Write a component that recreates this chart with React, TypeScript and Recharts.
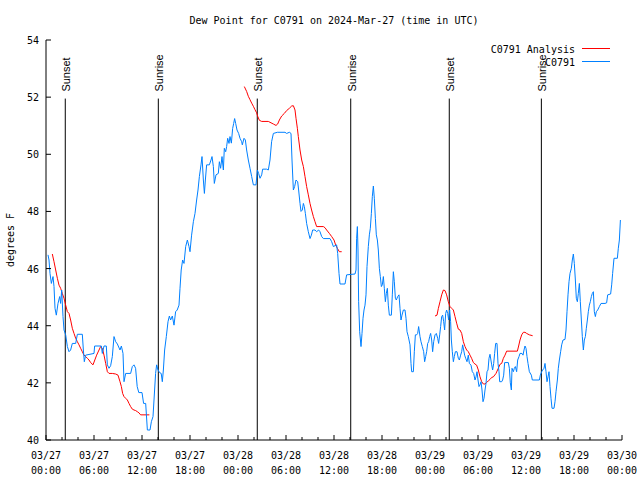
import React from 'react'
import { LineChart, Line, XAxis, YAxis, ReferenceLine } from 'recharts'

// hours since 03/27 00:00 UTC
const BLUE_HOURS = [
  0.25, 0.375, 0.5, 0.67, 0.875, 1.0, 1.125, 1.29, 1.5, 1.71, 1.83, 1.96, 2.125, 2.25, 2.46, 2.67, 2.875, 3.08, 3.29, 3.71,
  3.92, 4.54, 4.67, 4.79, 4.96, 6.0, 6.08, 6.92, 7.04, 7.25, 7.54, 7.67, 7.875, 8.08, 8.29, 8.5, 8.71, 8.92, 9.25, 9.42,
  9.625, 9.75, 9.96, 10.58, 10.79, 11.0, 11.2, 11.4, 11.6, 12.0, 12.2, 12.46, 12.67, 13.0, 13.17, 13.375, 13.5, 13.7, 13.83, 14.0,
  14.2, 14.4, 14.54, 14.67, 14.83, 15.04, 15.25, 15.42, 15.58, 15.79, 16.0, 16.2, 16.4, 16.625, 16.75, 16.9, 17.08, 17.25, 17.46, 17.67,
  17.875, 18.0, 18.2, 18.42, 18.625, 18.83, 19.0, 19.17, 19.375, 19.5, 19.67, 19.8, 19.92, 20.08, 20.42, 20.625, 20.75, 20.92, 21.04, 21.25,
  21.54, 21.67, 21.83, 22.0, 22.17, 22.29, 22.46, 22.58, 22.71, 22.875, 23.0, 23.17, 23.33, 23.46, 23.58, 23.71, 23.875, 24.08, 24.25, 24.46,
  24.54, 24.75, 24.92, 25.08, 25.29, 25.5, 25.71, 25.92, 26.25, 26.42, 26.58, 26.75, 26.96, 27.08, 27.58, 27.79, 28.0, 28.2, 28.42, 28.92,
  29.875, 30.08, 30.42, 30.625, 30.75, 30.92, 31.08, 31.25, 31.46, 31.58, 31.75, 31.875, 32.04, 32.17, 32.29, 32.42, 32.58, 32.79, 33.0, 33.17,
  33.33, 33.625, 33.83, 34.08, 34.25, 34.46, 34.67, 35.5, 35.71, 35.92, 36.33, 36.46, 36.625, 36.75, 37.375, 37.58, 38.625, 38.75, 38.83, 38.92,
  39.0, 39.08, 39.21, 39.375, 39.5, 39.625, 39.75, 39.875, 40.0, 40.125, 40.29, 40.42, 40.54, 40.67, 40.79, 40.92, 41.04, 41.17, 41.29, 41.42,
  41.54, 41.67, 41.79, 41.92, 42.04, 42.17, 42.29, 42.42, 42.54, 42.67, 42.79, 42.92, 43.17, 43.29, 43.42, 43.54, 43.67, 43.79, 43.96, 44.125,
  44.25, 44.375, 44.5, 44.67, 44.875, 45.0, 45.125, 45.29, 45.5, 45.625, 45.71, 45.92, 46.04, 46.17, 46.33, 46.46, 46.58, 46.75, 46.875, 47.04,
  47.21, 47.33, 47.46, 47.58, 47.71, 47.83, 47.96, 48.08, 48.21, 48.33, 48.46, 48.625, 48.79, 48.96, 49.08, 49.21, 49.33, 49.46, 49.58, 49.71,
  49.83, 49.96, 50.08, 50.21, 50.33, 50.46, 50.58, 50.67, 50.79, 50.92, 51.04, 51.17, 51.375, 51.54, 51.67, 51.83, 51.96, 52.08, 52.21, 52.33,
  52.46, 52.625, 52.79, 52.92, 53.125, 53.29, 53.46, 53.625, 53.75, 53.875, 54.0, 54.125, 54.25, 54.375, 54.5, 54.625, 54.75, 54.875, 55.0, 55.125,
  55.25, 55.375, 55.5, 55.71, 55.83, 55.96, 56.08, 56.21, 56.375, 56.5, 56.625, 56.71, 56.96, 57.08, 57.21, 57.33, 57.79, 57.92, 58.04, 58.17,
  58.25, 58.42, 58.54, 58.67, 58.83, 58.96, 59.125, 59.25, 59.5, 59.625, 59.75, 59.875, 60.0, 60.125, 60.25, 60.42, 60.67, 60.79, 61.67, 61.79,
  61.96, 62.08, 62.25, 62.375, 62.5, 62.625, 62.75, 62.875, 63.0, 63.125, 63.25, 63.5, 63.625, 63.75, 63.92, 64.04, 64.17, 64.33, 64.46, 64.625,
  64.875, 65.0, 65.125, 65.25, 65.375, 65.5, 65.67, 65.79, 65.92, 66.04, 66.17, 66.29, 66.42, 66.54, 66.67, 66.79, 66.92, 67.04, 67.17, 67.29,
  67.42, 67.54, 67.67, 67.79, 67.92, 68.04, 68.17, 68.29, 68.42, 68.54, 68.67, 68.79, 68.96, 69.17, 69.375, 69.875, 70.08, 70.21, 70.58, 70.71,
  70.83, 71.0, 71.42, 71.54, 71.67, 71.8,
]
const BLUE_DEW = [
  46.48, 46.3, 45.83, 45.48, 45.72, 45.37, 44.61, 44.37, 44.78, 45.02, 44.78, 45.25, 44.32, 43.85, 43.68, 43.27, 43.09, 43.15, 43.38, 43.38,
  43.7, 43.7, 43.15, 42.74, 42.97, 43.03, 43.29, 43.29, 43.03, 43.29, 43.29, 42.63, 42.51, 42.6, 42.92, 43.62, 43.44, 43.36, 43.15, 43.29,
  43.03, 42.04, 42.33, 42.33, 42.57, 42.63, 42.51, 41.87, 41.66, 41.66, 41.28, 41.28, 40.35, 40.35, 40.64, 40.82, 41.4, 42.33, 42.63, 42.45,
  42.36, 42.33, 42.04, 42.45, 43.15, 43.62, 44.14, 44.34, 44.2, 44.34, 44.02, 44.49, 44.55, 44.72, 45.31, 45.95, 46.3, 46.18, 46.77, 47.0,
  46.77, 46.59, 47.17, 47.64, 47.93, 48.4, 48.75, 49.22, 49.63, 49.92, 49.1, 48.63, 49.1, 49.63, 49.63, 49.8, 49.92, 49.57, 48.98, 49.28,
  49.33, 49.74, 49.51, 49.92, 49.45, 50.21, 50.09, 50.27, 50.56, 50.38, 50.62, 50.39, 50.9, 51.08, 51.25, 51.08, 50.85, 50.73, 50.56, 50.44,
  50.33, 50.56, 50.5, 50.15, 49.8, 49.51, 49.22, 48.93, 48.93, 49.45, 49.33, 49.16, 49.28, 49.48, 49.48, 49.45, 49.8, 50.44, 50.73, 50.77,
  50.77, 50.73, 50.77, 50.73, 49.8, 48.75, 48.87, 49.1, 49.04, 48.75, 48.28, 48.0, 48.05, 48.28, 48.17, 47.93, 47.58, 47.29, 47.05, 47.17,
  47.35, 47.35, 47.29, 47.35, 47.29, 47.12, 47.05, 47.05, 46.94, 46.77, 46.83, 46.53, 45.83, 45.46, 45.46, 45.78, 45.81, 45.95, 47.06, 47.47,
  46.65, 44.84, 43.79, 43.27, 43.73, 44.26, 44.55, 44.72, 45.08, 46.07, 46.77, 47.18, 47.41, 47.93, 48.52, 48.89, 48.46, 47.76, 47.18, 47.0,
  46.65, 46.01, 45.72, 45.37, 45.43, 45.72, 45.31, 44.84, 45.13, 45.31, 44.72, 44.37, 44.37, 45.08, 45.89, 45.54, 44.96, 44.9, 45.02, 45.08,
  44.61, 44.2, 44.37, 44.55, 44.55, 44.26, 43.79, 43.62, 43.33, 42.68, 42.39, 42.39, 43.09, 43.68, 43.68, 43.73, 43.97, 43.62, 43.44, 43.27,
  43.09, 42.74, 42.92, 43.09, 43.38, 43.44, 43.62, 43.73, 43.5, 43.09, 43.44, 43.68, 43.73, 43.56, 43.38, 43.68, 43.97, 44.32, 44.37, 44.14,
  43.85, 44.43, 44.55, 44.43, 44.2, 44.55, 44.14, 43.5, 43.09, 42.74, 42.92, 43.09, 43.09, 42.86, 42.8, 42.97, 43.09, 43.33, 43.15, 42.97,
  42.86, 42.74, 42.97, 42.68, 42.62, 42.39, 42.33, 42.1, 42.21, 42.39, 42.1, 41.87, 41.93, 42.04, 41.75, 41.34, 41.46, 41.75, 41.98, 42.39,
  42.45, 42.86, 43.0, 42.63, 42.45, 42.68, 43.03, 43.38, 43.38, 42.68, 42.39, 42.04, 42.04, 42.1, 42.27, 42.71, 42.71, 42.51, 42.0, 41.75,
  42.51, 42.39, 42.51, 42.57, 42.39, 42.8, 42.92, 43.03, 43.03, 42.97, 43.15, 43.29, 43.21, 42.92, 42.68, 42.39, 42.27, 42.1, 42.1, 42.27,
  42.39, 42.45, 42.51, 42.68, 42.39, 42.04, 42.21, 42.39, 41.87, 41.46, 41.11, 41.11, 41.34, 41.69, 42.1, 42.51, 42.8, 43.09, 43.33, 43.5,
  43.52, 43.85, 44.49, 45.08, 45.54, 45.83, 46.01, 46.3, 46.51, 46.18, 45.6, 44.96, 44.84, 45.13, 45.48, 44.84, 44.2, 43.62, 43.15, 43.5,
  43.62, 43.91, 44.2, 44.49, 44.72, 44.84, 45.02, 45.13, 45.19, 44.49, 44.32, 44.49, 44.55, 44.67, 44.78, 44.78, 44.8, 45.08, 45.11, 45.43,
  45.83, 46.36, 46.36, 46.71, 47.0, 47.7,
]

// analysis runs in three pieces
const RED1_HOURS = [
  0.79, 1.0, 1.21, 1.42, 1.625, 1.83, 2.04, 2.25, 2.46, 2.67, 2.875, 3.08, 3.29, 3.5, 3.71, 3.92, 4.125, 4.33, 4.54, 4.75,
  4.96, 5.17, 5.375, 5.58, 5.875, 6.1, 6.33, 6.625, 6.83, 7.04, 7.25, 7.46, 7.67, 7.875, 8.29, 8.71, 9.0, 9.25, 9.42, 9.58,
  9.75, 9.96, 10.17, 10.375, 10.58, 10.79, 11.0, 11.2, 11.42, 11.62, 11.83, 12.92,
]
const RED1_DEW = [
  46.51, 46.24, 45.95, 45.66, 45.42, 45.31, 45.13, 44.96, 44.72, 44.49, 44.43, 44.2, 43.91, 43.73, 43.56, 43.44, 43.33, 43.21, 43.09, 42.97,
  42.92, 42.86, 42.8, 42.71, 42.63, 42.8, 42.97, 43.15, 43.27, 43.21, 42.97, 42.68, 42.39, 42.33, 42.33, 42.31, 42.27, 42.04, 41.87, 41.63,
  41.52, 41.46, 41.4, 41.28, 41.17, 41.08, 41.05, 41.03, 40.99, 40.95, 40.88, 40.88,
]
const RED2_HOURS = [
  24.79, 25.08, 25.29, 25.5, 25.71, 25.92, 26.125, 26.33, 26.46, 26.67, 26.96, 27.375, 27.79, 28.0, 28.42, 28.75, 28.96, 29.17, 29.46, 29.79,
  30.08, 30.42, 30.71, 30.92, 31.125, 31.25, 31.42, 31.54, 31.75, 31.96, 32.17, 32.375, 32.58, 32.79, 33.0, 33.2, 33.42, 33.625, 33.83, 34.25,
  34.67, 34.875, 35.08, 35.42, 35.71, 36.0, 36.2, 36.42, 36.67, 36.96,
]
const RED2_DEW = [
  52.37, 52.2, 52.03, 51.91, 51.79, 51.68, 51.56, 51.45, 51.33, 51.19, 51.15, 51.15, 51.15, 51.12, 51.06, 51.01, 51.06, 51.2, 51.34, 51.43,
  51.53, 51.61, 51.69, 51.7, 51.55, 51.26, 50.91, 50.62, 50.15, 49.8, 49.57, 49.22, 48.87, 48.58, 48.28, 48.05, 47.82, 47.64, 47.47, 47.47,
  47.47, 47.43, 47.35, 47.23, 47.12, 47.0, 46.83, 46.71, 46.59, 46.59,
]
const RED3_HOURS = [
  48.625, 48.875, 49.04, 49.25, 49.46, 49.67, 49.875, 50.08, 50.29, 50.5, 50.71, 50.92, 51.125, 51.33, 51.54, 51.75, 51.96, 52.17, 52.375, 52.58,
  52.79, 53.0, 53.2, 53.42, 53.62, 53.83, 54.04, 54.25, 54.46, 54.67, 54.875, 55.08, 55.29, 55.5, 55.71, 55.92, 56.25, 56.54, 56.75, 56.96,
  57.17, 57.375, 57.58, 58.0, 58.5, 58.92, 59.08, 59.25, 59.46, 59.67, 59.875, 60.08, 60.42, 60.83,
]
const RED3_DEW = [
  44.34, 44.37, 44.6, 44.84, 45.08, 45.25, 45.23, 45.08, 44.84, 44.67, 44.61, 44.55, 44.32, 44.09, 43.88, 43.85, 43.73, 43.44, 43.27, 43.15,
  43.09, 42.97, 42.86, 42.71, 42.66, 42.62, 42.45, 42.21, 42.04, 41.96, 41.96, 42.01, 42.07, 42.12, 42.19, 42.21, 42.33, 42.51, 42.65, 42.68,
  42.86, 42.97, 43.11, 43.11, 43.11, 43.11, 43.29, 43.5, 43.68, 43.77, 43.77, 43.73, 43.68, 43.65,
]

const SUN_HOURS = [2.41, 14.04, 26.41, 38.09, 50.41, 61.92]
const SUN_LABELS = ['Sunset', 'Sunrise', 'Sunset', 'Sunrise', 'Sunset', 'Sunrise']

const TICK_HOURS = [0, 2, 4, 6, 8, 10, 12, 14, 16, 18, 20, 22, 24, 26, 28, 30, 32, 34, 36, 38, 40, 42, 44, 46, 48, 50, 52, 54, 56, 58, 60, 62, 64, 66, 68, 70, 72]
const DAY_LABELS = ['03/27', '03/28', '03/29', '03/30']
const TIME_LABELS = ['00:00', '06:00', '12:00', '18:00']
const Y_TICKS = [40, 42, 44, 46, 48, 50, 52, 54]

const MONO = 'DejaVu Sans Mono, monospace'
const BLUE = '#0080ff'
const RED = '#ff0000'

const toRows = (hours: number[], vals: number[]) => hours.map((h, i) => ({ h, v: vals[i] }))
const blueRows = toRows(BLUE_HOURS, BLUE_DEW)
const redPieces = [toRows(RED1_HOURS, RED1_DEW), toRows(RED2_HOURS, RED2_DEW), toRows(RED3_HOURS, RED3_DEW)]

function BottomTick({ x, y, payload }: any) {
  const h = payload.value
  const major = h % 6 === 0
  return (
    <g>
      <line x1={x} x2={x} y1={y} y2={y - (major ? 5 : 3)} stroke="#000" />
      {major && (
        <text x={x} y={y + 19} textAnchor="middle" fontSize={10} fontFamily={MONO} fill="#000">
          <tspan x={x}>{DAY_LABELS[Math.floor(h / 24)]}</tspan>
          <tspan x={x} dy={15}>{TIME_LABELS[(h % 24) / 6]}</tspan>
        </text>
      )}
    </g>
  )
}

function TopTick({ x, y, payload }: any) {
  const major = payload.value % 6 === 0
  return <line x1={x} x2={x} y1={y} y2={y + (major ? 5 : 3)} stroke="#000" />
}

function LeftTick({ x, y, payload }: any) {
  return (
    <g>
      <line x1={x} x2={x + 5} y1={y} y2={y} stroke="#000" />
      <text x={x - 7} y={y + 4} textAnchor="end" fontSize={10} fontFamily={MONO} fill="#000">
        {payload.value}
      </text>
    </g>
  )
}

function RightTick({ x, y }: any) {
  return <line x1={x} x2={x - 5} y1={y} y2={y} stroke="#000" />
}

function SunText({ viewBox, text }: any) {
  const tx = viewBox.x + 5
  const ty = viewBox.y - 7
  return (
    <text x={tx} y={ty} transform={`rotate(-90 ${tx} ${ty})`} fontSize={11} fontFamily="Liberation Sans, Arial, sans-serif" fill="#000">
      {text}
    </text>
  )
}

export default function App() {
  return (
    <div style={{ position: 'absolute', left: 0, top: 0, width: 640, height: 480, background: '#fff' }}>
      <LineChart width={640} height={480} margin={{ top: 40, right: 18, bottom: 0, left: 0 }}>
        <XAxis
          dataKey="h"
          type="number"
          domain={[0, 72]}
          ticks={TICK_HOURS}
          interval={0}
          allowDataOverflow
          height={40}
          tickSize={0}
          tickMargin={0}
          tickLine={false}
          stroke="#000"
          tick={<BottomTick />}
        />
        <XAxis
          xAxisId="top"
          orientation="top"
          dataKey="h"
          type="number"
          domain={[0, 72]}
          ticks={TICK_HOURS}
          interval={0}
          allowDataOverflow
          height={0}
          tickSize={0}
          tickMargin={0}
          tickLine={false}
          stroke="#000"
          tick={<TopTick />}
        />
        <YAxis
          yAxisId="l"
          type="number"
          domain={[40, 54]}
          ticks={Y_TICKS}
          interval={0}
          allowDataOverflow
          width={46}
          tickSize={0}
          tickMargin={0}
          tickLine={false}
          stroke="#000"
          tick={<LeftTick />}
        />
        <YAxis
          yAxisId="r"
          orientation="right"
          type="number"
          domain={[40, 54]}
          ticks={Y_TICKS}
          interval={0}
          allowDataOverflow
          width={0}
          tickSize={0}
          tickMargin={0}
          tickLine={false}
          stroke="#000"
          tick={<RightTick />}
        />
        {SUN_HOURS.map((h, i) => (
          <ReferenceLine
            key={i}
            yAxisId="l"
            segment={[{ x: h, y: 51.95 }, { x: h, y: 40 }]}
            stroke="#000"
            strokeWidth={1}
            ifOverflow="visible"
            label={<SunText text={SUN_LABELS[i]} />}
          />
        ))}
        {redPieces.map((rows, i) => (
          <Line
            key={i}
            yAxisId="l"
            data={rows}
            dataKey="v"
            type="linear"
            stroke={RED}
            strokeWidth={1}
            dot={false}
            isAnimationActive={false}
          />
        ))}
        <Line
          yAxisId="l"
          data={blueRows}
          dataKey="v"
          type="linear"
          stroke={BLUE}
          strokeWidth={1}
          dot={false}
          isAnimationActive={false}
        />
      </LineChart>
      <svg width={640} height={480} style={{ position: 'absolute', left: 0, top: 0, pointerEvents: 'none' }}>
        <text x={334} y={24} textAnchor="middle" fontSize={10} fontFamily={MONO} fill="#000">
          Dew Point for C0791 on 2024-Mar-27 (time in UTC)
        </text>
        <text x={14} y={240} transform="rotate(-90 14 240)" textAnchor="middle" fontSize={10} fontFamily={MONO} fill="#000">
          degrees F
        </text>
        <text x={575} y={53} textAnchor="end" fontSize={10} fontFamily={MONO} fill="#000">
          C0791 Analysis
        </text>
        <line x1={582} x2={610} y1={48.5} y2={48.5} stroke={RED} />
        <text x={575} y={66} textAnchor="end" fontSize={10} fontFamily={MONO} fill="#000">
          C0791
        </text>
        <line x1={582} x2={610} y1={61.5} y2={61.5} stroke={BLUE} />
      </svg>
    </div>
  )
}
